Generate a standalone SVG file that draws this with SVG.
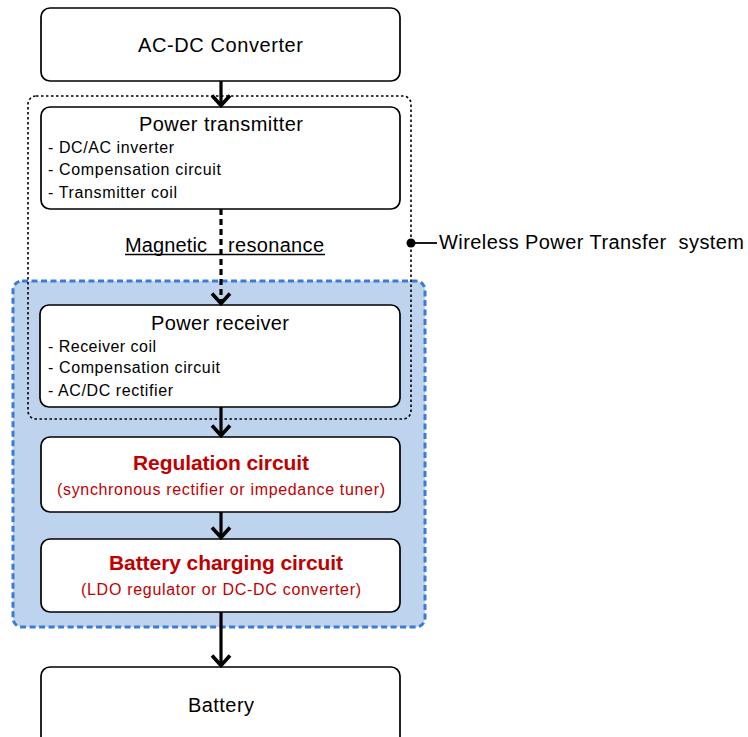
<svg xmlns="http://www.w3.org/2000/svg" width="748" height="737" viewBox="0 0 748 737">
<style>
.box{fill:#fff;stroke:#000;stroke-width:1.7}
.t{font-family:"Liberation Sans",Arial,sans-serif;fill:#000}
.h{font-size:20px}
.s{font-size:16px}
.red{fill:#C00000}
.conn{stroke:#000;stroke-width:3.2;fill:none}
</style>
<defs>
<marker id="ah" viewBox="0 0 14 22" refX="12" refY="11" markerWidth="14" markerHeight="22" markerUnits="userSpaceOnUse" orient="auto">
<path d="M1.5,2 L11.5,11 L1.5,20" fill="none" stroke="#000" stroke-width="3.6"/>
</marker>
</defs>
<rect width="748" height="737" fill="#fff"/>
<g id="rx-region">
<rect x="13" y="281" width="412" height="346" rx="9" fill="#BED4EE" stroke="#3A7BD5" stroke-width="3" stroke-dasharray="6,3.5"/>
</g>
<g id="wpt-system">
<rect x="28" y="96" width="383" height="323" rx="8" fill="none" stroke="#000" stroke-width="1.6" stroke-dasharray="2.5,2.5"/>
<circle cx="411" cy="243" r="4.5" fill="#000"/>
<line x1="411" y1="243" x2="437" y2="243" stroke="#000" stroke-width="1.8"/>
<text class="t h" x="439" y="249" textLength="305" lengthAdjust="spacing" xml:space="preserve">Wireless Power Transfer  system</text>
</g>
<g id="ac-dc">
<rect class="box" x="41" y="8" width="359" height="73" rx="9"/>
<text class="t h" x="138" y="51.5" textLength="165" lengthAdjust="spacing">AC-DC Converter</text>
</g>
<g id="tx">
<rect class="box" x="41" y="107" width="359" height="102" rx="9"/>
<text class="t h" x="139" y="130.5" textLength="164" lengthAdjust="spacing">Power transmitter</text>
<text class="t s" x="48" y="153" textLength="126" lengthAdjust="spacing">- DC/AC inverter</text>
<text class="t s" x="48" y="174.5" textLength="173" lengthAdjust="spacing">- Compensation circuit</text>
<text class="t s" x="48" y="197.5" textLength="129" lengthAdjust="spacing">- Transmitter coil</text>
</g>
<g id="magnetic">
<text class="t h" x="125" y="252" textLength="82" lengthAdjust="spacing">Magnetic</text>
<text class="t h" x="228" y="252" textLength="96" lengthAdjust="spacing">resonance</text>
<line x1="125" y1="254.5" x2="325" y2="254.5" stroke="#000" stroke-width="1.3"/>
</g>
<g id="rx">
<rect class="box" x="40" y="305" width="360" height="102" rx="9"/>
<text class="t h" x="151" y="329.5" textLength="138" lengthAdjust="spacing">Power receiver</text>
<text class="t s" x="48" y="351.5" textLength="108" lengthAdjust="spacing">- Receiver coil</text>
<text class="t s" x="48" y="372.5" textLength="172" lengthAdjust="spacing">- Compensation circuit</text>
<text class="t s" x="48" y="396" textLength="125" lengthAdjust="spacing">- AC/DC rectifier</text>
</g>
<g id="regulation">
<rect class="box" x="41" y="437" width="359" height="75" rx="9"/>
<text class="t red" x="133" y="470" font-size="21" font-weight="bold" textLength="176" lengthAdjust="spacing">Regulation circuit</text>
<text class="t s red" x="57" y="495" textLength="328" lengthAdjust="spacing">(synchronous rectifier or impedance tuner)</text>
</g>
<g id="charging">
<rect class="box" x="41" y="539" width="359" height="73" rx="9"/>
<text class="t red" x="109" y="570" font-size="21" font-weight="bold" textLength="234" lengthAdjust="spacing">Battery charging circuit</text>
<text class="t s red" x="81" y="595" textLength="280" lengthAdjust="spacing">(LDO regulator or DC-DC converter)</text>
</g>
<g id="battery">
<rect class="box" x="41" y="667" width="359" height="80" rx="9"/>
<text class="t h" x="188" y="712" textLength="66" lengthAdjust="spacing">Battery</text>
</g>
<g id="connectors">
<line class="conn" x1="221" y1="81" x2="221" y2="106" marker-end="url(#ah)"/>
<line class="conn" x1="221" y1="209" x2="221" y2="304" stroke-dasharray="6,4" marker-end="url(#ah)"/>
<line class="conn" x1="221" y1="407" x2="221" y2="436" marker-end="url(#ah)"/>
<line class="conn" x1="221" y1="512" x2="221" y2="538" marker-end="url(#ah)"/>
<line class="conn" x1="221" y1="612" x2="221" y2="666" marker-end="url(#ah)"/>
</g>
</svg>
